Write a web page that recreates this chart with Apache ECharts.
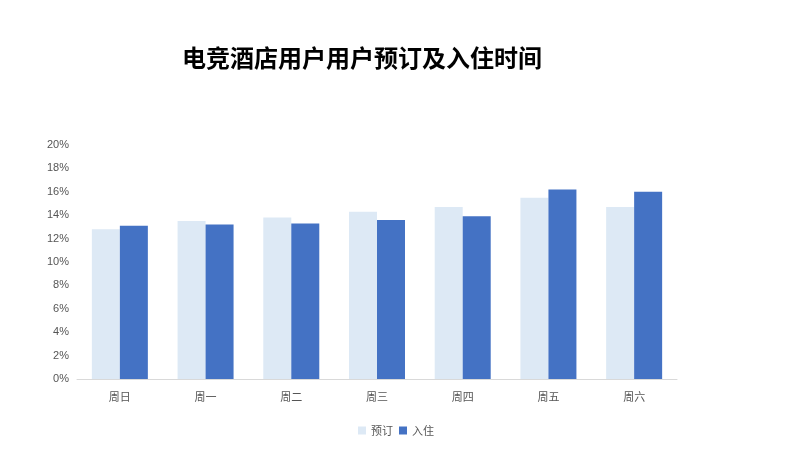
<!DOCTYPE html><html><head><meta charset="utf-8"><script src="https://cdn.jsdelivr.net/npm/echarts@6/dist/echarts.min.js"></script></head><body style="margin:0"><div id="c" style="width:792px;height:467px"></div><script>
const categories=['周日','周一','周二','周三','周四','周五','周六'];
const booking=[12.8,13.5,13.8,14.3,14.7,15.5,14.7];
const checkin=[13.1,13.2,13.3,13.6,13.9,16.2,16.0];
const c=echarts.init(document.getElementById('c'));
c.setOption({
title:{text:'电竞酒店用户用户预订及入住时间',left:357,top:41,textAlign:'center',textStyle:{fontSize:24,fontWeight:'bold',color:'#000',fontFamily:'Noto Sans CJK SC'}},
legend:{bottom:26,left:'center',itemWidth:8,itemHeight:8,itemGap:6,icon:'rect',textStyle:{fontSize:11,color:'#555',fontFamily:'Noto Sans CJK SC'},data:['预订','入住']},
grid:{left:77,right:115,top:145,bottom:88},
xAxis:{type:'category',data:categories,axisTick:{show:false},axisLine:{lineStyle:{color:'#d9d9d9'}},axisLabel:{color:'#555',fontSize:11,margin:12,fontFamily:'Noto Sans CJK SC'}},
yAxis:{type:'value',min:0,max:20,interval:2,axisLabel:{formatter:'{value}%',color:'#555',fontSize:11},splitLine:{show:false},axisLine:{show:false}},
series:[{name:'预订',type:'bar',data:booking,barWidth:28,barGap:'0%',itemStyle:{color:'#dde9f5'}},
{name:'入住',type:'bar',data:checkin,barWidth:28,itemStyle:{color:'#4472c4'}}]
});
</script></body></html>
